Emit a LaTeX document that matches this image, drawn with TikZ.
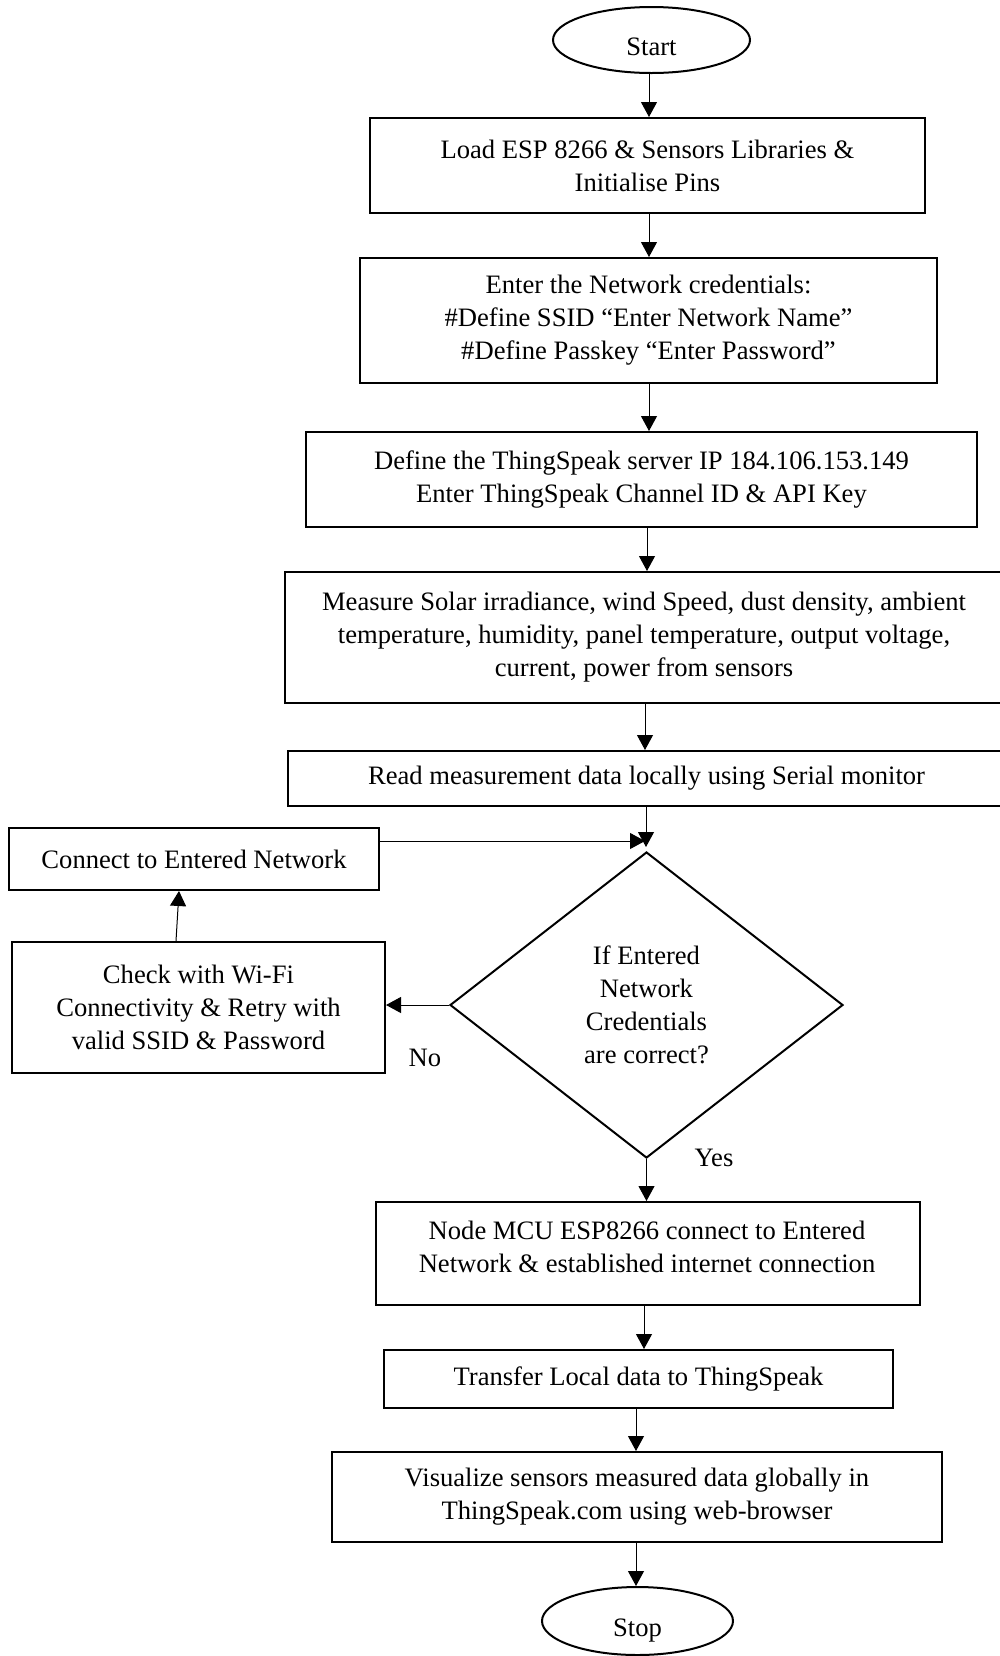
\documentclass[tikz,border=0pt]{standalone}
\usepackage{fontspec}
\setmainfont{Liberation Serif}
\usetikzlibrary{shapes.geometric,arrows.meta}

\begin{document}
\begin{tikzpicture}[
  x=0.5pt, y=-0.5pt,
  txtfont/.style={font=\fontsize{13.3}{16.5}\selectfont},
  box/.style={draw, line width=1pt, rectangle, inner sep=0pt, align=center, txtfont},
  term/.style={draw, line width=1pt, ellipse, inner sep=0pt, align=center, txtfont,
    text height=15pt, text depth=0pt},
  decision/.style={draw, line width=1pt, diamond, inner sep=0pt, align=center, txtfont},
  plain/.style={inner sep=0pt, align=center, txtfont},
  arr/.style={line width=0.5pt, -{Triangle[length=7.5pt,width=8pt]}}
]
\useasboundingbox (0,0) rectangle (1000,1656);

% terminals
\node[term, minimum width=98.5pt, minimum height=33pt] (start) at (651.5,40) {Start};
\node[term, minimum width=95.5pt, minimum height=34pt] (stop) at (637.5,1621) {Stop};

% process boxes
\node[box, minimum width=277.5pt, minimum height=47.5pt] (b1) at (647.5,165.5)
  {Load ESP 8266 \& Sensors Libraries \&\\Initialise Pins};
\node[box, minimum width=288.5pt, minimum height=62.5pt] (b2) at (648.5,320.5)
  {Enter the Network credentials:\\\#Define SSID “Enter Network Name”\\\#Define Passkey “Enter Password”};
\node[box, minimum width=335.5pt, minimum height=47.5pt] (b3) at (641.5,479.5)
  {Define the ThingSpeak server IP 184.106.153.149\\Enter ThingSpeak Channel ID \& API Key};
\node[box, minimum width=359pt, minimum height=65.5pt] (b4) at (644,637.5)
  {Measure Solar irradiance, wind Speed, dust density, ambient\\temperature, humidity, panel temperature, output voltage,\\current, power from sensors};
\node[box, minimum width=358.5pt, minimum height=27.5pt] (b5) at (646.5,778.5)
  {Read measurement data locally using Serial monitor};

\node[box, minimum width=185pt, minimum height=31pt] (conn) at (194,859)
  {Connect to Entered Network};
\node[box, minimum width=186.5pt, minimum height=65.5pt] (check) at (198.5,1007.5)
  {Check with Wi-Fi\\Connectivity \& Retry with\\valid SSID \& Password};

\node[decision, minimum width=196.5pt, minimum height=153pt] (dia) at (646.5,1005)
  {If Entered\\Network\\Credentials\\are correct?};

\node[box, minimum width=272pt, minimum height=51.5pt] (b6) at (648,1253.5) {};
\node[plain] (b6t) at (647,1246.5)
  {Node MCU ESP8266 connect to Entered\\Network \& established internet connection};
\node[box, minimum width=254.5pt, minimum height=29pt] (b7) at (638.5,1379)
  {Transfer Local data to ThingSpeak};
\node[box, minimum width=305pt, minimum height=45pt] (b8) at (637,1497)
  {Visualize sensors measured data globally in\\ThingSpeak.com using web-browser};

% branch labels
\node[plain] (no) at (425,1058) {No};
\node[plain] (yes) at (714,1158) {Yes};

% main flow
\draw[arr] (start.south -| 649,0) -- (b1.north -| 649,0);
\draw[arr] (b1.south -| 649,0) -- (b2.north -| 649,0);
\draw[arr] (b2.south -| 649,0) -- (b3.north -| 649,0);
\draw[arr] (b3.south -| 647,0) -- (b4.north -| 647,0);
\draw[arr] (b4.south -| 645,0) -- (b5.north -| 645,0);
\draw[arr] (b5.south -| 646,0) -- (646,847);
\draw[arr] (dia.south) -- (b6.north -| dia.south);
\draw[arr] (b6.south -| 644,0) -- (b7.north -| 644,0);
\draw[arr] (b7.south -| 636,0) -- (b8.north -| 636,0);
\draw[arr] (b8.south -| 636,0) -- (stop.north -| 636,0);

% retry loop
\draw[arr] (dia.west) -- (check.east |- dia.west);
\draw[arr] (check.north -| 176,0) -- (conn.south -| 179,0);
\draw[arr] (conn.east |- 0,841) -- (645,841);
\end{tikzpicture}
\end{document}
